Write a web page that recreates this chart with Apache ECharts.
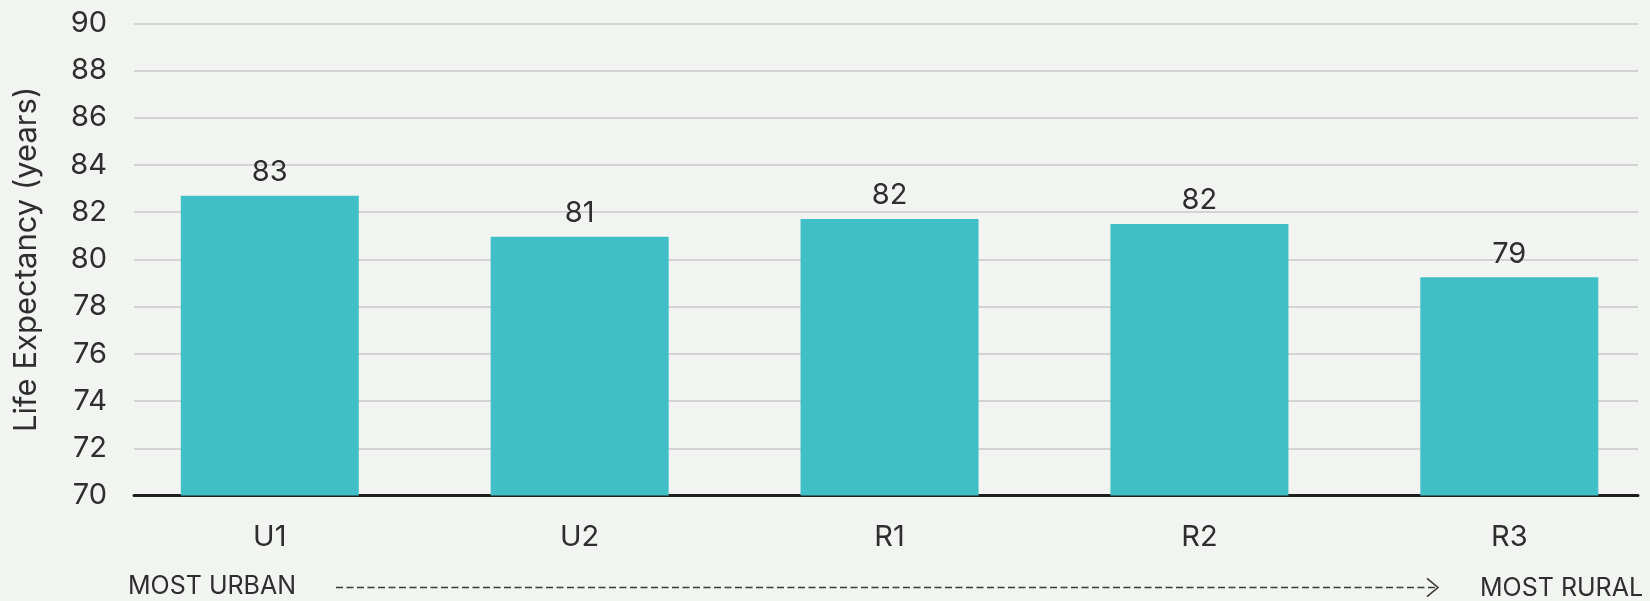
<!DOCTYPE html>
<html>
<head>
<meta charset="utf-8">
<script src="https://cdn.jsdelivr.net/npm/echarts@6/dist/echarts.min.js"></script>
<style>
html,body{margin:0;padding:0;background:#f2f4f1;}
#chart{width:1650px;height:601px;}
</style>
</head>
<body>
<div id="chart"></div>
<script>
const categories = ['U1', 'U2', 'R1', 'R2', 'R3'];
const lifeExpectancy = [82.7, 80.96, 81.71, 81.5, 79.24];
const yMin = 70, yMax = 90, yStep = 2;
const yTitle = 'Life Expectancy (years)';
const leftNote = 'MOST URBAN';
const rightNote = 'MOST RURAL';

const FONT = 'Inter, "Noto Sans", sans-serif';
const TXT = '#2e2e2e';

const chart = echarts.init(document.getElementById('chart'));
chart.setOption({
  backgroundColor: '#f2f4f1',
  animation: false,
  grid: [
    { left: 134, right: 12, top: 23.3, bottom: 105.5 },
    { left: 269.8, width: 1239.5, top: 23.3, bottom: 105.5 }
  ],
  xAxis: [
    { gridIndex: 0, type: 'value', min: 0, max: 1, axisLine: { show: true, onZero: false, lineStyle: { color: '#1e1e1e', width: 3 } },
      axisTick: { show: false }, axisLabel: { show: false }, splitLine: { show: false } },
    { gridIndex: 1, type: 'category', data: categories, boundaryGap: false,
      axisLine: { show: false }, axisTick: { show: false },
      axisLabel: { color: TXT, fontFamily: FONT, fontSize: 29, margin: 27 } }
  ],
  yAxis: [
    { gridIndex: 0, type: 'value', min: yMin, max: yMax, interval: yStep,
      name: yTitle, nameLocation: 'middle', nameGap: 92,
      nameTextStyle: { color: TXT, fontFamily: FONT, fontSize: 31 },
      axisLine: { show: false }, axisTick: { show: false },
      axisLabel: { color: TXT, fontFamily: FONT, fontSize: 29, margin: 27 },
      splitLine: { lineStyle: { color: '#c8c8c8', width: 1.5 } } },
    { gridIndex: 1, type: 'value', min: yMin, max: yMax, interval: yStep, startValue: yMin, show: false,
      splitLine: { show: false } }
  ],
  series: [{
    type: 'bar', xAxisIndex: 1, yAxisIndex: 1, clip: false,
    data: lifeExpectancy, barWidth: 178,
    itemStyle: { color: '#40c0c6' },
    label: { show: true, position: 'top', distance: 9, color: TXT, fontFamily: FONT, fontSize: 29,
      formatter: p => String(Math.round(p.value)) }
  }],
  graphic: [
    { type: 'text', left: 128, top: 574, style: { text: leftNote, fill: TXT, font: '25px ' + FONT } },
    { type: 'text', left: 1480, top: 576, style: { text: rightNote, fill: TXT, font: '25px ' + FONT } },
    { type: 'line', shape: { x1: 336, y1: 587.5, x2: 1437, y2: 587.5 },
      style: { stroke: '#3a3a3a', lineWidth: 1.6, lineDash: [7, 3.5] } },
    { type: 'polyline', shape: { points: [[1427, 578.3], [1438, 587.5], [1427, 596.7]] },
      style: { stroke: '#3a3a3a', lineWidth: 1.6, fill: null } }
  ]
});
</script>
</body>
</html>
